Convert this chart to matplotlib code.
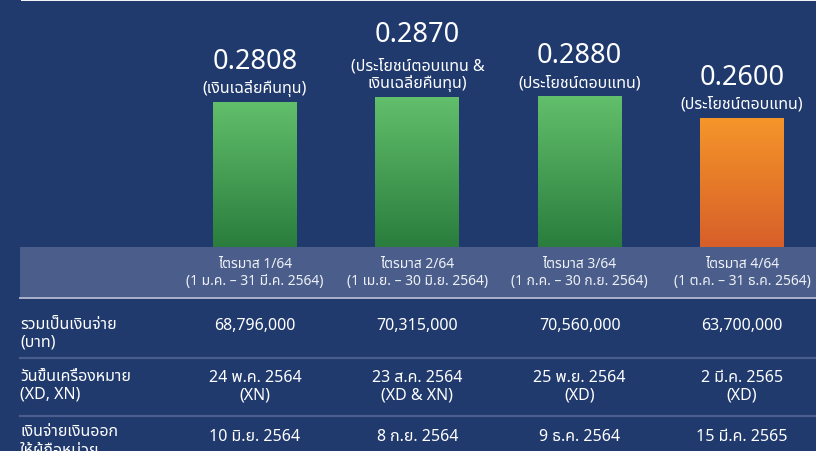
"""Quarterly distribution per unit, 2564: bars plus a small summary table."""

import matplotlib

matplotlib.use("Agg")
import matplotlib.pyplot as plt
import numpy as np
from matplotlib.colors import LinearSegmentedColormap
from matplotlib.patches import Rectangle

plt.rcParams["font.family"] = ["Noto Sans Thai", "Noto Sans", "DejaVu Sans"]

# --- data ---------------------------------------------------------------
quarters = ["ไตรมาส 1/64", "ไตรมาส 2/64", "ไตรมาส 3/64", "ไตรมาส 4/64"]
periods = [
    "(1 ม.ค. – 31 มี.ค. 2564)",
    "(1 เม.ย. – 30 มิ.ย. 2564)",
    "(1 ก.ค. – 30 ก.ย. 2564)",
    "(1 ต.ค. – 31 ธ.ค. 2564)",
]
dividends = [0.2808, 0.2870, 0.2880, 0.2600]
sources = [
    "(เงินเฉลี่ยคืนทุน)",
    "(ประโยชน์ตอบแทน &\nเงินเฉลี่ยคืนทุน)",
    "(ประโยชน์ตอบแทน)",
    "(ประโยชน์ตอบแทน)",
]
totals = [68796000, 70315000, 70560000, 63700000]
xd_dates = ["24 พ.ค. 2564", "23 ส.ค. 2564", "25 พ.ย. 2564", "2 มี.ค. 2565"]
xd_types = ["(XN)", "(XD & XN)", "(XD)", "(XD)"]
pay_dates = ["10 มิ.ย. 2564", "8 ก.ย. 2564", "9 ธ.ค. 2564", "15 มี.ค. 2565"]
row_labels = [
    "รวมเป็นเงินจ่าย\n(บาท)",
    "วันขึ้นเครื่องหมาย\n(XD, XN)",
    "เงินจ่ายเงินออก\nให้ผู้ถือหน่วย",
]

# --- style ----------------------------------------------------------------
NAVY = "#203a6e"
BAND = "#4b5e8b"
SEP = "#4a5d8c"
GREEN = ["#62bf6b", "#2a7d3d"]
ORANGE = ["#f5962a", "#d75f29"]
W, H = 816, 452
BASE_PX = 248  # bar baseline, pixels from top
TABLE_FS = 11.5

x = np.arange(len(dividends))
xlim = (-1.571, 3.456)

fig = plt.figure(figsize=(W / 100, H / 100), dpi=100, facecolor=NAVY)

# background layer: x in bar units, y in pixels from top
ax_bg = fig.add_axes([0, 0, 1, 1])
ax_bg.set_xlim(*xlim)
ax_bg.set_ylim(H, 0)
ax_bg.axis("off")
edge = ax_bg.get_yaxis_transform()  # x axes fraction, y pixels
left = 20 / W

ax_bg.add_patch(Rectangle((21 / W, 0), 1, 1.5, transform=edge, color="#f2f3f6", lw=0))
ax_bg.add_patch(Rectangle((left, BASE_PX), 1 - left, 50, transform=edge, color=BAND, lw=0))
ax_bg.plot([left, 1], [298.5, 298.5], transform=edge, color="#aab3ca", lw=1.4)
for y in (359, 417):
    ax_bg.plot([left, 1], [y, y], transform=edge, color=SEP, lw=1.6)

# quarter band
for xi, q, p in zip(x, quarters, periods):
    ax_bg.text(xi, 273, f"{q}\n{p}", ha="center", va="center", fontsize=10,
               color="#eef1f7", linespacing=1.2)

# table
for label, yc in zip(row_labels, (334, 386, 441)):
    ax_bg.text(left, yc, label, transform=edge, ha="left", va="center",
               fontsize=TABLE_FS, color="white", linespacing=1.15)
for xi, tot, d, t, pay in zip(x, totals, xd_dates, xd_types, pay_dates):
    ax_bg.text(xi, 326, f"{tot:,}", ha="center", va="center", fontsize=TABLE_FS, color="white")
    ax_bg.text(xi, 387, f"{d}\n{t}", ha="center", va="center", fontsize=TABLE_FS,
               color="white", linespacing=1.15)
    ax_bg.text(xi, 437, pay, ha="center", va="center", fontsize=TABLE_FS, color="white")

# bars
ax = fig.add_axes([0, (H - BASE_PX) / H, 1, BASE_PX / H])
ax.set_xlim(*xlim)
ymin, ymax = 0.0919, 0.4148
ax.set_ylim(ymin, ymax)
ax.axis("off")
ax.patch.set_alpha(0)

width = 0.517
colors = [GREEN, GREEN, GREEN, ORANGE]
grad = np.linspace(0, 1, 256).reshape(-1, 1)
bars = ax.bar(x, dividends, width=width, color="none", lw=0)
for bar, v, c in zip(bars, dividends, colors):
    cmap = LinearSegmentedColormap.from_list("g", [c[1], c[0]])
    im = ax.imshow(grad, cmap=cmap, origin="lower", aspect="auto",
                   extent=(bar.get_x(), bar.get_x() + width, ymin, v))
    im.set_clip_path(bar)

for xi, v, src in zip(x, dividends, sources):
    n_lines = src.count("\n") + 1
    ax.annotate(src, (xi, v), xytext=(0, 6), textcoords="offset pixels",
                ha="center", va="bottom", fontsize=11.5, color="white", linespacing=1.05)
    ax.annotate(f"{v:.4f}", (xi, v), xytext=(0, 12 + 22 * n_lines),
                textcoords="offset pixels", ha="center", va="baseline",
                fontsize=19.5, color="white")
ax.set_xlim(*xlim)
ax.set_ylim(ymin, ymax)

fig.savefig("out.png", dpi=100, facecolor=NAVY)
